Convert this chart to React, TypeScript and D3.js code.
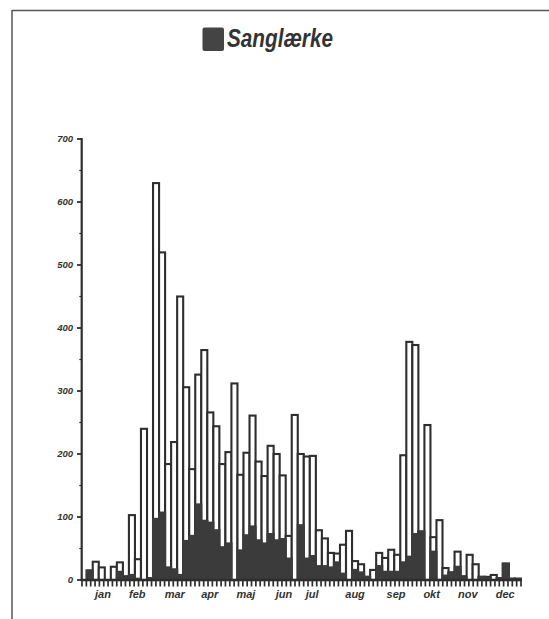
import React from "react";
import * as d3 from "d3";

const TITLE = "Sanglærke";

// 72 five-day periods (pentads) through the year
const totalCounts = [
  15, 29, 20, 0, 21, 28, 6, 103, 33, 240, 3, 630, 520, 184, 219, 450, 306, 176,
  326, 365, 266, 244, 184, 203, 312, 167, 202, 261, 188, 165, 213, 200, 166, 70,
  262, 200, 196, 197, 79, 66, 43, 42, 56, 78, 30, 25, 5, 16, 43, 35, 48, 40, 198,
  378, 373, 77, 246, 68, 95, 19, 12, 45, 6, 40, 25, 5, 5, 8, 3, 26, 2, 2,
];
const darkCounts = [
  15, 0, 0, 0, 0, 13, 4, 8, 2, 0, 2, 97, 107, 20, 17, 8, 62, 70, 120, 94, 91, 79,
  52, 58, 0, 47, 71, 85, 63, 58, 73, 63, 65, 34, 0, 87, 34, 38, 22, 22, 20, 28,
  10, 0, 16, 12, 5, 0, 22, 13, 13, 13, 28, 37, 73, 77, 0, 45, 0, 7, 12, 21, 4, 0,
  0, 5, 2, 0, 3, 26, 2, 2,
];
const monthLabels = ["jan", "feb", "mar", "apr", "maj", "jun", "jul", "aug", "sep", "okt", "nov", "dec"];
// label centre, in day of year
const monthLabelDay = [13.5, 42, 73, 102, 132, 163.5, 187, 222.5, 256.5, 286, 316, 347];
const yTickValues = [0, 100, 200, 300, 400, 500, 600, 700];
const yMinorValues = [50, 150, 250, 350, 450, 550, 650];

const W = 549;
const H = 619;
const INK = "#2e2e2e";
const DARK = "#3b3b3b";

export default function App() {
  const idx = d3.range(totalCounts.length);
  const x = d3.scaleBand<number>().domain(idx).range([86.7, 520.9]).padding(0);
  const xDay = d3.scaleLinear().domain([0, totalCounts.length * 5]).range([86.7, 520.9]);
  const y = d3.scaleLinear().domain([0, 700]).range([580, 139]);
  const xTicks = d3.scaleLinear().domain([0, 101]).range([82, 521]);
  const bw = x.bandwidth();
  const font = "'Liberation Sans', Arial, sans-serif";
  const sw = 2.1;

  return (
    <svg
      width={W}
      height={H}
      viewBox={`0 0 ${W} ${H}`}
      style={{ position: "absolute", left: 0, top: 0, background: "#fff" }}
    >
      <rect x={0} y={0} width={W} height={H} fill="#fff" />
      {/* frame */}
      <line x1={12} y1={10.5} x2={W} y2={10.5} stroke="#555" strokeWidth={1.5} />
      <line x1={12} y1={10} x2={12} y2={H} stroke="#555" strokeWidth={1.5} />

      {/* title with legend square */}
      <rect x={202.5} y={27.5} width={21.5} height={23.5} rx={2} fill="#444" />
      <text
        x={227}
        y={47}
        fontFamily={font}
        fontWeight="bold"
        fontStyle="italic"
        fontSize={25}
        fill="#333"
        textLength={106}
        lengthAdjust="spacingAndGlyphs"
      >
        {TITLE}
      </text>

      {/* white total bars */}
      {idx.map((i) =>
        totalCounts[i] > 0 ? (
          <rect
            key={"t" + i}
            x={x(i)}
            y={y(totalCounts[i])}
            width={bw}
            height={y(0) - y(totalCounts[i])}
            fill="#fff"
            stroke={INK}
            strokeWidth={sw}
          />
        ) : null
      )}
      {/* dark bars */}
      {idx.map((i) =>
        darkCounts[i] > 0 ? (
          <rect
            key={"d" + i}
            x={(x(i) as number) - sw / 2}
            y={y(darkCounts[i]) - sw / 2}
            width={bw + sw}
            height={y(0) - y(darkCounts[i]) + sw / 2}
            fill={DARK}
          />
        ) : null
      )}

      {/* y axis */}
      <line x1={81.7} y1={138} x2={81.7} y2={581} stroke={INK} strokeWidth={2.2} />
      {yTickValues.map((v) => (
        <g key={"y" + v}>
          <line x1={77} x2={81.7} y1={y(v)} y2={y(v)} stroke={INK} strokeWidth={1.8} />
          <text
            x={73}
            y={y(v) + 3.2}
            textAnchor="end"
            fontFamily={font}
            fontWeight="bold"
            fontStyle="italic"
            fontSize={9.5}
            fill="#333"
          >
            {v}
          </text>
        </g>
      ))}
      {yMinorValues.map((v) => (
        <line key={"ym" + v} x1={79.3} x2={81.7} y1={y(v)} y2={y(v)} stroke={INK} strokeWidth={1.2} />
      ))}

      {/* x axis */}
      <line x1={80.7} y1={580} x2={522} y2={580} stroke={INK} strokeWidth={2.4} />
      {d3.range(102).map((t) => (
        <line
          key={"xt" + t}
          x1={xTicks(t)}
          x2={xTicks(t)}
          y1={580}
          y2={586.5}
          stroke={INK}
          strokeWidth={1.7}
        />
      ))}
      {monthLabels.map((m, i) => (
        <text
          key={m}
          x={xDay(monthLabelDay[i])}
          y={598}
          textAnchor="middle"
          fontFamily={font}
          fontWeight="bold"
          fontStyle="italic"
          fontSize={11}
          fill="#333"
        >
          {m}
        </text>
      ))}
    </svg>
  );
}
